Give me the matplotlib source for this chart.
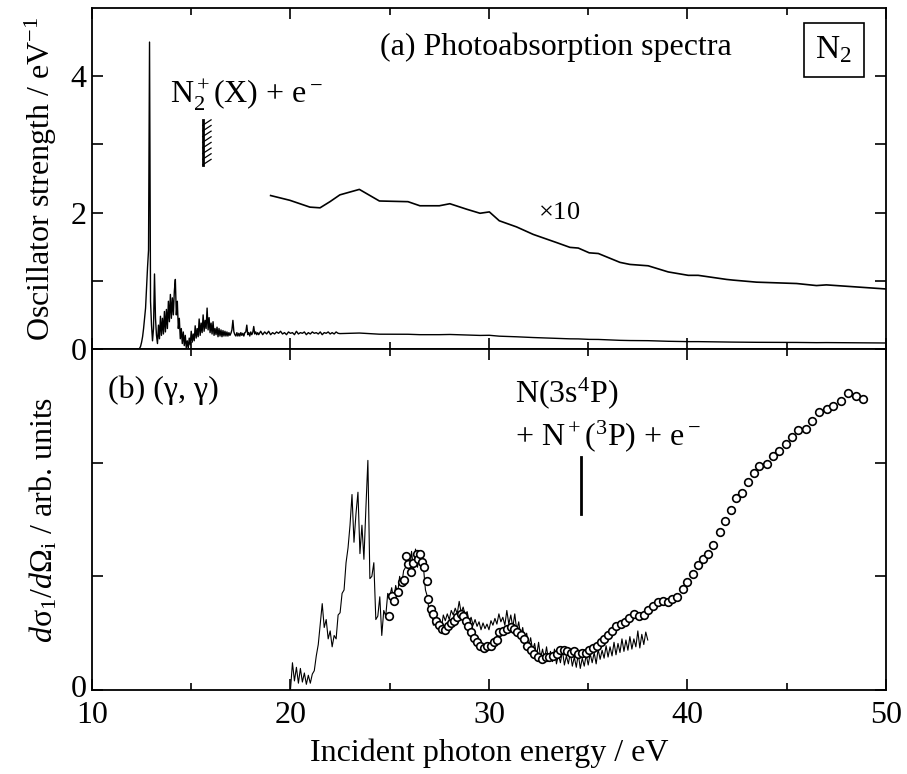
import numpy as np
import matplotlib.pyplot as plt
from matplotlib.ticker import MultipleLocator
from matplotlib.transforms import ScaledTranslation

plt.rcParams["font.family"] = ["Liberation Serif", "DejaVu Serif"]
plt.rcParams["mathtext.fontset"] = "custom"
plt.rcParams["mathtext.rm"] = "Liberation Serif"
plt.rcParams["mathtext.it"] = "Liberation Serif:italic"
plt.rcParams["mathtext.bf"] = "Liberation Serif:bold"

FONT = 23

# (a) photoabsorption, fine scan 12.30-18.40 eV every 0.05 eV
ABS_FINE_START, ABS_FINE_STEP = 12.30, 0.05
ABS_FINE = [
    0.00, 0.00, 0.01, 0.04, 0.10, 0.18, 0.30, 0.45, 0.60, 0.90,
    1.20, 1.45, 4.50, 0.70, 0.35, 0.12, 0.30, 1.10, 0.45, 0.20,
    0.08, 0.35, 0.15, 0.48, 0.20, 0.45, 0.22, 0.55, 0.25, 0.58,
    0.30, 0.70, 0.40, 0.80, 0.45, 0.75, 0.50, 0.85, 1.02, 0.50,
    0.70, 0.30, 0.45, 0.15, 0.30, 0.08, 0.25, 0.05, 0.20, 0.02,
    0.12, 0.01, 0.16, 0.06, 0.26, 0.10, 0.22, 0.12, 0.34, 0.16,
    0.30, 0.18, 0.44, 0.20, 0.38, 0.24, 0.50, 0.26, 0.42, 0.30,
    0.60, 0.28, 0.46, 0.24, 0.38, 0.22, 0.40, 0.20, 0.30, 0.21,
    0.32, 0.18, 0.30, 0.19, 0.28, 0.18, 0.27, 0.19, 0.26, 0.19,
    0.25, 0.19, 0.24, 0.20, 0.23, 0.28, 0.42, 0.25, 0.21, 0.19,
    0.24, 0.19, 0.23, 0.19, 0.24, 0.20, 0.23, 0.19, 0.24, 0.25,
    0.35, 0.21, 0.24, 0.19, 0.25, 0.21, 0.24, 0.33, 0.22, 0.25,
    0.21, 0.24, 0.21,
]
# 18.5-22.4 eV every 0.1 eV
ABS_MID_START, ABS_MID_STEP = 18.5, 0.1
ABS_MID = [
    0.26, 0.21, 0.25, 0.22, 0.26, 0.21, 0.24, 0.22, 0.25, 0.23,
    0.26, 0.22, 0.24, 0.21, 0.25, 0.23, 0.24, 0.21, 0.26, 0.22,
    0.24, 0.23, 0.25, 0.21, 0.24, 0.22, 0.25, 0.23, 0.24, 0.22,
    0.25, 0.21, 0.24, 0.23, 0.25, 0.22, 0.24, 0.22, 0.25, 0.23,
]
# coarse points above 19 eV, plotted x10
ABS_TEN_E = [
    19.0, 19.97, 20.98, 21.49, 21.99, 22.49, 23.47, 24.48, 25.92, 26.52,
    27.5, 28.03, 28.87, 29.55, 30.02, 30.52, 31.39, 32.23, 33.41, 34.08,
    34.5, 35.05, 35.51, 36.6, 37.1, 38.02, 39.03, 40.04, 40.54, 41.97,
    42.3, 43.48, 45.5, 46.5, 47.0, 50.0,
]
ABS_TEN_F = [
    2.25, 2.18, 2.08, 2.07, 2.16, 2.26, 2.34, 2.17, 2.16, 2.10,
    2.10, 2.13, 2.05, 1.99, 2.01, 1.88, 1.79, 1.68, 1.56, 1.49,
    1.48, 1.41, 1.40, 1.27, 1.24, 1.22, 1.13, 1.08, 1.08, 1.02,
    1.01, 0.98, 0.96, 0.93, 0.94, 0.88,
]

# (b) (gamma, gamma) yield, 20.0-38.0 eV every 0.1 eV
GG_START, GG_STEP = 20.0, 0.1
GG_LINE = [
    0.00, 0.24, 0.08, 0.20, 0.06, 0.19, 0.07, 0.15, 0.05, 0.13,
    0.06, 0.14, 0.17, 0.30, 0.40, 0.58, 0.76, 0.55, 0.62, 0.45,
    0.52, 0.38, 0.48, 0.45, 0.66, 0.68, 0.85, 0.88, 1.12, 1.25,
    1.45, 1.72, 1.30, 1.55, 1.74, 1.20, 1.45, 1.15, 1.60, 2.02,
    0.98, 1.00, 1.12, 0.62, 0.65, 0.82, 0.48, 0.70, 0.65, 0.85,
    0.82, 0.90, 0.78, 0.92, 0.85, 1.00, 0.92, 1.05, 1.08, 1.20,
    1.05, 1.22, 1.06, 1.24, 1.08, 1.22, 1.06, 1.08, 0.88, 0.82,
    0.66, 0.70, 0.57, 0.66, 0.60, 0.63, 0.54, 0.66, 0.61, 0.67,
    0.62, 0.70, 0.66, 0.72, 0.67, 0.78, 0.68, 0.73, 0.66, 0.69,
    0.60, 0.64, 0.57, 0.62, 0.56, 0.60, 0.53, 0.59, 0.54, 0.58,
    0.53, 0.61, 0.57, 0.63, 0.58, 0.67, 0.60, 0.64, 0.57, 0.70,
    0.58, 0.66, 0.55, 0.67, 0.52, 0.60, 0.47, 0.55, 0.43, 0.50,
    0.38, 0.46, 0.35, 0.41, 0.30, 0.42, 0.28, 0.36, 0.27, 0.38,
    0.26, 0.34, 0.25, 0.36, 0.23, 0.31, 0.24, 0.35, 0.22, 0.30,
    0.23, 0.33, 0.21, 0.29, 0.20, 0.32, 0.19, 0.28, 0.21, 0.31,
    0.22, 0.32, 0.24, 0.33, 0.23, 0.36, 0.27, 0.35, 0.28, 0.39,
    0.29, 0.38, 0.30, 0.42, 0.31, 0.41, 0.33, 0.45, 0.34, 0.44,
    0.35, 0.47, 0.36, 0.45, 0.38, 0.52, 0.37, 0.49, 0.40, 0.51,
    0.44,
]
GG_PTS_E = [
    24.98, 25.10, 25.23, 25.43, 25.60, 25.73, 25.82, 25.94, 26.06, 26.19,
    26.36, 26.44, 26.52, 26.64, 26.74, 26.86, 26.94, 27.06, 27.19, 27.33,
    27.48, 27.62, 27.78, 27.95, 28.09, 28.24, 28.41, 28.57, 28.71, 28.84,
    28.96, 29.08, 29.24, 29.38, 29.55, 29.75, 29.92, 30.09, 30.25, 30.42,
    30.52, 30.72, 30.89, 31.09, 31.26, 31.42, 31.59, 31.76, 31.93, 32.10,
    32.27, 32.47, 32.65, 32.86, 33.04, 33.24, 33.41, 33.58, 33.78, 33.95,
    34.13, 34.30, 34.50, 34.67, 34.87, 35.05, 35.25, 35.42, 35.62, 35.79,
    36.00, 36.20, 36.42, 36.63, 36.85, 37.07, 37.30, 37.56, 37.81, 38.02,
    38.27, 38.53, 38.75, 39.00, 39.24, 39.49, 39.76, 39.99, 40.26, 40.54,
    40.80, 41.05, 41.30, 41.64, 41.89, 42.18, 42.43, 42.73, 43.06, 43.35,
    43.62, 43.99, 44.29, 44.62, 44.96, 45.26, 45.58, 45.95, 46.25, 46.64,
    47.01, 47.34, 47.73, 48.10, 48.49, 48.86,
]
GG_PTS = [
    0.65, 0.83, 0.78, 0.86, 0.95, 0.97, 1.18, 1.11, 1.04, 1.12,
    1.20, 1.15, 1.20, 1.13, 1.08, 0.96, 0.80, 0.71, 0.67, 0.61,
    0.57, 0.54, 0.53, 0.56, 0.59, 0.61, 0.64, 0.67, 0.65, 0.61,
    0.56, 0.51, 0.46, 0.42, 0.39, 0.37, 0.39, 0.39, 0.42, 0.44,
    0.51, 0.52, 0.54, 0.55, 0.54, 0.51, 0.48, 0.45, 0.39, 0.35,
    0.32, 0.29, 0.27, 0.29, 0.29, 0.30, 0.32, 0.35, 0.35, 0.34,
    0.33, 0.34, 0.32, 0.33, 0.33, 0.35, 0.37, 0.39, 0.42, 0.45,
    0.48, 0.52, 0.56, 0.58, 0.60, 0.63, 0.67, 0.65, 0.66, 0.70,
    0.74, 0.77, 0.78, 0.77, 0.80, 0.82, 0.89, 0.95, 1.02, 1.10,
    1.15, 1.20, 1.28, 1.39, 1.49, 1.58, 1.69, 1.73, 1.83, 1.91,
    1.97, 1.99, 2.06, 2.10, 2.16, 2.23, 2.29, 2.30, 2.37, 2.45,
    2.47, 2.50, 2.54, 2.61, 2.59, 2.56,
]

# dissociation / ionisation thresholds (eV)
N2X_THRESHOLD = 15.58
N3S_THRESHOLD = 34.62


def grid(start, step, values):
    return start + step * np.arange(len(values))


def style_axis(ax):
    ax.set_xlim(10, 50)
    ax.xaxis.set_major_locator(MultipleLocator(10))
    ax.xaxis.set_minor_locator(MultipleLocator(5))
    ax.tick_params(which="both", direction="in", top=True, right=True,
                   labelsize=FONT, width=1.2)
    ax.tick_params(which="major", length=8)
    ax.tick_params(which="minor", length=5)
    ax.tick_params(axis="x", pad=8)
    ax.tick_params(axis="y", pad=4)
    for sp in ax.spines.values():
        sp.set_linewidth(1.3)


def draw_hatched_threshold(ax, energy, y0, y1, n=8):
    ax.plot([energy, energy], [y0, y1], color="black", lw=2)
    for y in np.linspace(y0, y1 - 0.08, n):
        ax.plot([energy, energy + 0.42], [y, y + 0.08], color="black", lw=0.9)


def main():
    fig, (ax1, ax2) = plt.subplots(2, 1, figsize=(9.07, 7.74), dpi=100, sharex=True)
    fig.subplots_adjust(left=0.1014, right=0.9768, top=0.9897, bottom=0.1085, hspace=0)

    # (a) photoabsorption
    ten_e = np.array(ABS_TEN_E)
    ten_f = np.array(ABS_TEN_F)
    tail = ten_e > 22.45
    abs_e = np.concatenate([grid(ABS_FINE_START, ABS_FINE_STEP, ABS_FINE),
                            grid(ABS_MID_START, ABS_MID_STEP, ABS_MID), ten_e[tail]])
    abs_f = np.concatenate([ABS_FINE, ABS_MID, ten_f[tail] / 10])
    ax1.plot(abs_e, abs_f, color="black", lw=1.0)
    ax1.plot(ten_e, ten_f, color="black", lw=1.2)

    style_axis(ax1)
    ax1.set_ylim(0, 5)
    ax1.set_yticks([0, 1, 2, 3, 4])
    ax1.set_yticklabels(["0", "", "2", "", "4"])
    ax1.set_ylabel("Oscillator strength / eV$^{-1}$", fontsize=FONT, labelpad=8)

    ax1.text(0.363, 0.886, "(a) Photoabsorption spectra", transform=ax1.transAxes,
             fontsize=FONT, va="center")
    ax1.text(0.934, 0.877, "N$_2$", transform=ax1.transAxes, fontsize=FONT + 1,
             ha="center", va="center",
             bbox=dict(boxstyle="square,pad=0.35", fc="white", ec="black", lw=1.2))
    ax1.text(13.93, 3.72, "N$_2^+$(X) + e$^-$", fontsize=FONT, va="center")
    ax1.text(32.47, 2.0, "$\\times$10", fontsize=FONT - 4, va="center")
    draw_hatched_threshold(ax1, N2X_THRESHOLD, 2.70, 3.36)

    # (b) (gamma, gamma)
    ax2.plot(grid(GG_START, GG_STEP, GG_LINE), GG_LINE, color="black", lw=0.8)
    ax2.plot(GG_PTS_E, GG_PTS, "o", mfc="white", mec="black", mew=1.2, ms=5.5)

    style_axis(ax2)
    ax2.set_ylim(0, 3)
    ax2.set_yticks([0, 1, 2, 3])
    ax2.set_yticklabels(["0", "", "", ""])
    # lift the bottom zero a little so it clears the "10" below it
    lift = ScaledTranslation(0, 3 / 72, fig.dpi_scale_trans)
    zero = ax2.get_yticklabels()[0]
    zero.set_transform(zero.get_transform() + lift)
    ax2.set_ylabel("$d$σ$_1$/$d$Ω$_\\mathrm{i}$ / arb. units", fontsize=FONT, labelpad=8)
    ax2.set_xlabel("Incident photon energy / eV", fontsize=FONT, labelpad=6)

    ax2.text(0.02, 0.88, "(b) (γ, γ)", transform=ax2.transAxes, fontsize=FONT, va="center")
    ax2.text(31.3, 2.61, "N(3s$^4$P)", fontsize=FONT, va="center")
    ax2.text(31.3, 2.23, "+ N$^+$($^3$P) + e$^-$", fontsize=FONT, va="center")
    ax2.plot([N3S_THRESHOLD, N3S_THRESHOLD], [1.55, 2.05], color="black", lw=2)

    fig.savefig("out.png", dpi=100)
    plt.close(fig)


if __name__ == "__main__":
    main()
